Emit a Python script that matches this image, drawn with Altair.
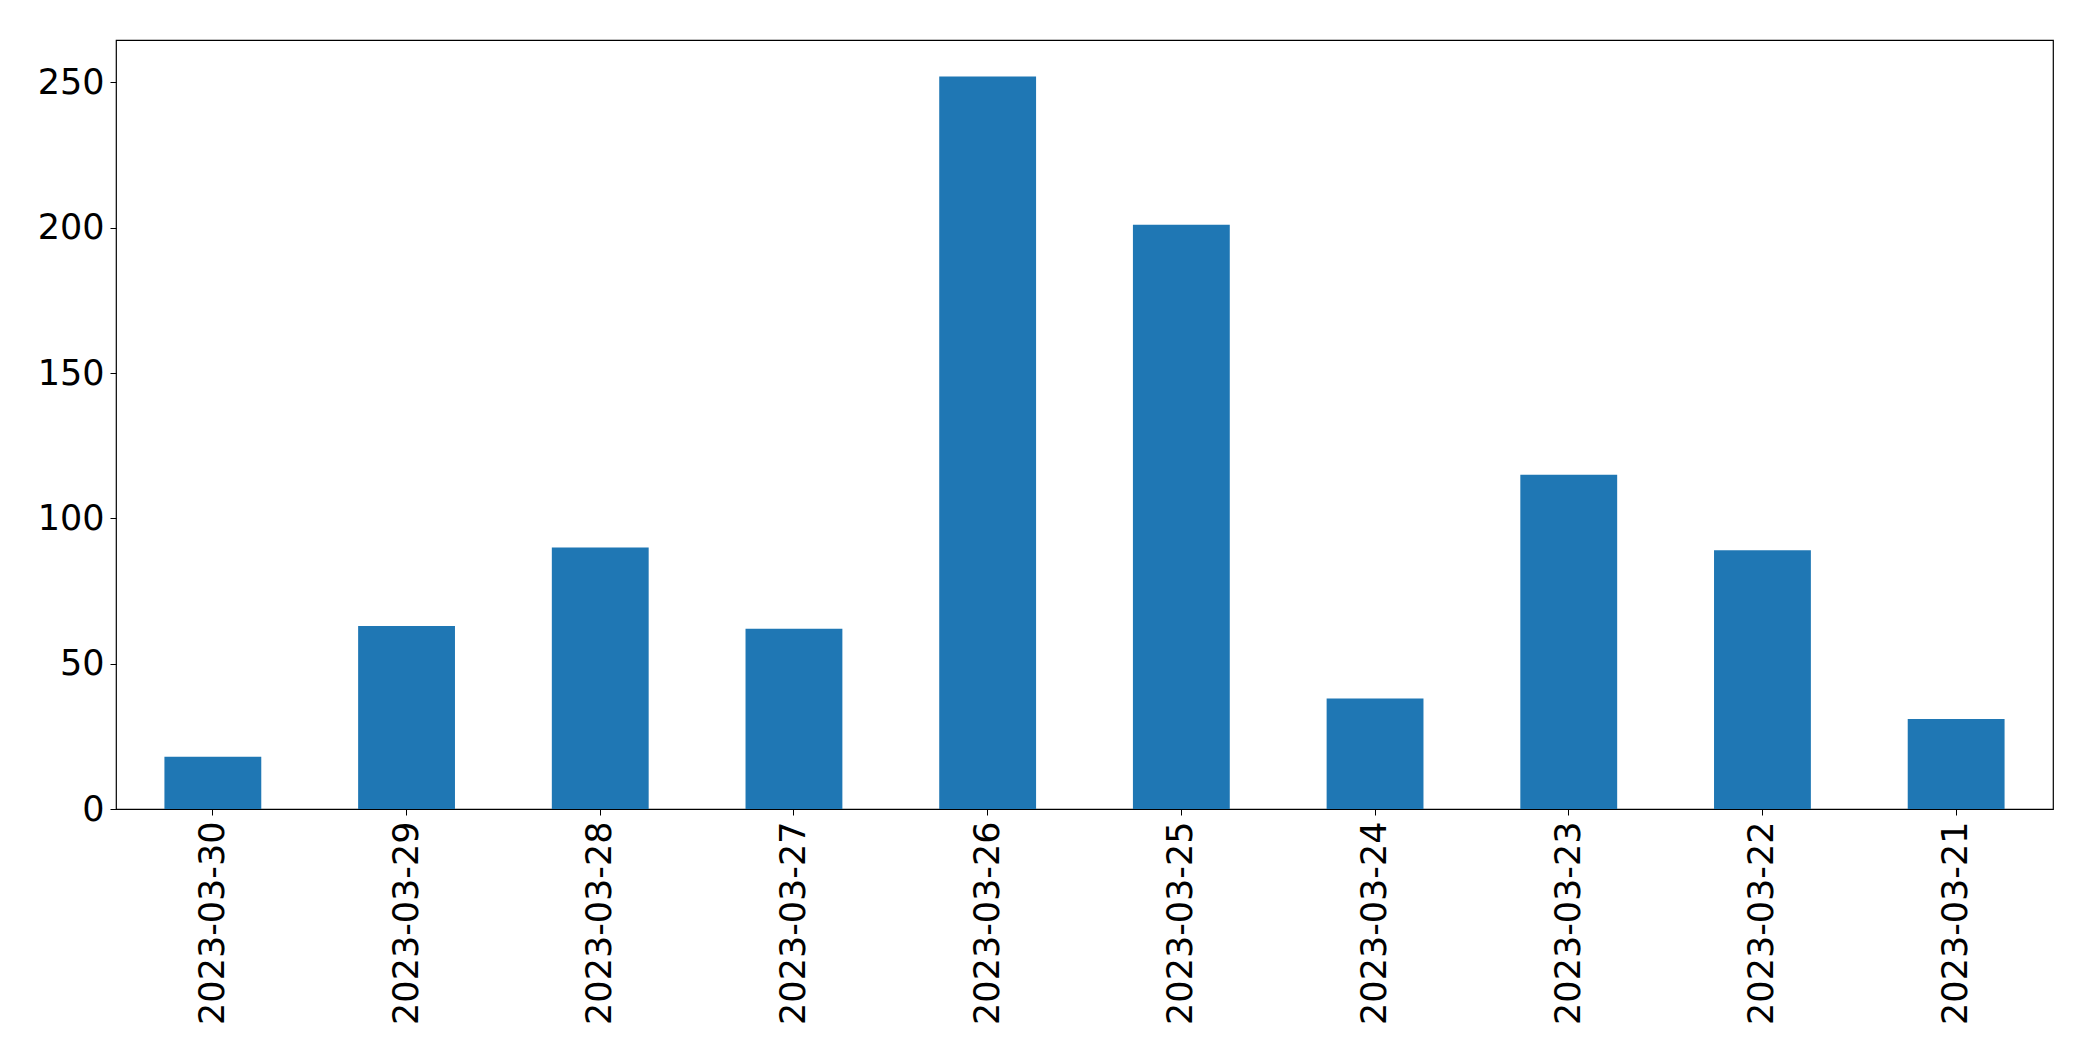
import altair as alt
import pandas as pd

dates = ["2023-03-30", "2023-03-29", "2023-03-28", "2023-03-27", "2023-03-26",
         "2023-03-25", "2023-03-24", "2023-03-23", "2023-03-22", "2023-03-21"]
counts = [18, 63, 90, 62, 252, 201, 38, 115, 89, 31]
y_ticks = [0, 50, 100, 150, 200, 250]

df = pd.DataFrame({"date": dates, "count": counts})

chart = alt.Chart(df).mark_bar(color="#1f77b4").encode(
    x=alt.X("date:N", sort=dates, title=None,
            scale=alt.Scale(paddingInner=0.5, paddingOuter=0.25),
            axis=alt.Axis(labelAngle=270, labelFontSize=35, labelFont="DejaVu Sans",
                          labelColor="black", tickColor="black", tickSize=6,
                          labelPadding=6, domain=False, labelAlign="right",
                          labelBaseline="middle", labelLimit=1000)),
    y=alt.Y("count:Q", title=None,
            scale=alt.Scale(domain=[0, 264.6], nice=False, zero=True),
            axis=alt.Axis(values=y_ticks, grid=False, labelFontSize=35,
                          labelFont="DejaVu Sans", labelColor="black",
                          tickColor="black", tickSize=6, labelPadding=6,
                          domain=False)),
).properties(
    width=1937, height=769,
    autosize=alt.AutoSizeParams(type="none"),
    padding={"left": 108, "top": 32, "right": 32, "bottom": 244},
).configure_view(stroke="black", strokeWidth=1.2)

chart.save("out.html", embed_options={"renderer": "svg", "actions": False})
